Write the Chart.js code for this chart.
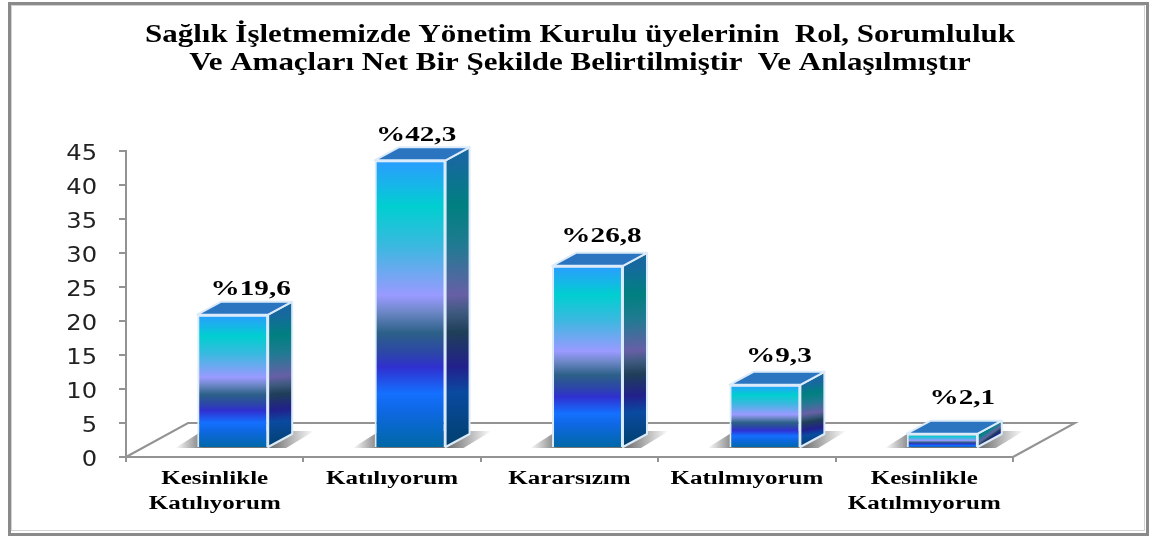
<!DOCTYPE html>
<html><head><meta charset="utf-8">
<style>html,body{margin:0;padding:0;background:#fff}canvas{display:block}#w{width:1159px;height:536px;position:relative}</style>
<script src="https://cdn.jsdelivr.net/npm/chart.js@4"></script>
</head><body><div id="w"><canvas id="c" width="1159" height="536"></canvas></div>
<script>
const titleLines = ["Sağlık İşletmemizde Yönetim Kurulu üyelerinin  Rol, Sorumluluk", "Ve Amaçları Net Bir Şekilde Belirtilmiştir  Ve Anlaşılmıştır"];
const categories = [["Kesinlikle","Katılıyorum"],["Katılıyorum"],["Kararsızım"],["Katılmıyorum"],["Kesinlikle","Katılmıyorum"]];
const values = [19.6,42.3,26.8,9.3,2.1];
const valueLabels = ["%19,6","%42,3","%26,8","%9,3","%2,1"];

const LABEL_NUDGE=[[18,-25],[6,-25],[14,-29],[14,-28],[20,-35]];
const FRONT=[[0,'#2b9cff'],[.08,'#18b4ea'],[.16,'#00cfd0'],[.3,'#3cb8e0'],[.47,'#9a9aff'],[.53,'#6a86c4'],[.6,'#2c6088'],[.67,'#2c46a8'],[.72,'#3030d0'],[.81,'#1470ff'],[.87,'#0e68e4'],[1,'#0068a4']];
const SIDE=[[0,'#17689f'],[.16,'#008080'],[.3,'#217a92'],[.47,'#675fa6'],[.53,'#3f5a80'],[.6,'#1f3f58'],[.72,'#22208c'],[.81,'#0a4aa0'],[1,'#00406c']];
const DEPTH={x:24,y:-13}, SHIFT={x:18,y:-9}, FLOOR={x:62,y:-34};
const EDGE='#dcebfa', AXIS='#939393';
const SIZE={title:26,cat:18,val:20,tick:21};
const STRETCH={26:[1.19,0],18:[1.39,0],20:[1.46,0],21:[1.15,4]};
function grad(ctx,x0,y0,x1,y1,stops){const g=ctx.createLinearGradient(x0,y0,x1,y1);stops.forEach(s=>g.addColorStop(s[0],s[1]));return g;}

const canvas=document.getElementById('c');
const rawCtx=canvas.getContext('2d');
const rawFill=rawCtx.fillText.bind(rawCtx);
rawCtx.fillText=function(t,x,y){
  const m=/(\d+)px/.exec(rawCtx.font), s=m&&STRETCH[m[1]];
  if(!s) return rawFill(t,x,y);
  rawCtx.save();rawCtx.translate(x,y+s[1]);rawCtx.scale(s[0],1);rawFill(t,0,0);rawCtx.restore();
};

const scene={id:'scene',
 afterLayout(ch){if(ch.titleBlock){ch.titleBlock.left=0;ch.titleBlock.right=1160;}},
 beforeDraw(ch){const c=ch.ctx;c.save();c.strokeStyle='#d2d2d2';c.lineWidth=1;c.strokeRect(11.5,5.5,1133,525);c.strokeStyle='#8a8a8a';c.lineWidth=3;c.strokeRect(9.5,3.5,1138,531);c.restore();},
 beforeDatasetsDraw(ch){
  const c=ch.ctx,a=ch.chartArea;c.save();c.strokeStyle=AXIS;c.lineWidth=2;c.beginPath();
  c.moveTo(a.left,a.bottom);c.lineTo(a.left+FLOOR.x,a.bottom+FLOOR.y);c.lineTo(a.right+FLOOR.x,a.bottom+FLOOR.y);c.lineTo(a.right,a.bottom);c.stroke();
  ch.getDatasetMeta(0).data.forEach(b=>{
   const l=b.x-b.width/2+SHIFT.x,r=b.x+b.width/2+SHIFT.x,y=b.base+SHIFT.y+1;
   const g=grad(c,l-22,0,r+46,0,[[0,'rgba(110,110,110,0)'],[.2,'rgba(110,110,110,.95)'],[.7,'rgba(110,110,110,.95)'],[1,'rgba(110,110,110,0)']]);
   c.fillStyle=g;c.beginPath();c.moveTo(l-22,y);c.lineTo(l+5,y-17);c.lineTo(r+46,y-17);c.lineTo(r+18,y);c.closePath();c.fill();
  });
  c.restore();
 },
 beforeDatasetDraw(ch){ch.ctx.save();ch.ctx.translate(SHIFT.x,SHIFT.y);
   const c=ch.ctx;
   ch.getDatasetMeta(0).data.forEach(b=>{
    const l=b.x-b.width/2,r=b.x+b.width/2,t=b.y,bt=b.base;
    c.save();c.strokeStyle=EDGE;c.lineWidth=2;c.lineJoin='round';
    c.fillStyle=grad(c,r,t,r+DEPTH.x*.4,bt,SIDE);
    c.beginPath();c.moveTo(r,t);c.lineTo(r+DEPTH.x,t+DEPTH.y);c.lineTo(r+DEPTH.x,bt+DEPTH.y);c.lineTo(r,bt);c.closePath();c.fill();c.stroke();
    c.fillStyle='#2a74c0';
    c.beginPath();c.moveTo(l,t);c.lineTo(l+DEPTH.x,t+DEPTH.y);c.lineTo(r+DEPTH.x,t+DEPTH.y);c.lineTo(r,t);c.closePath();c.fill();c.stroke();
    c.restore();
   });
 },
 afterDatasetDraw(ch){ch.ctx.restore();},
 afterDatasetsDraw(ch){
  const c=ch.ctx;c.save();c.fillStyle='#000';c.font='bold '+SIZE.val+'px "Liberation Serif"';c.textAlign='center';c.textBaseline='middle';
  ch.getDatasetMeta(0).data.forEach((b,i)=>c.fillText(valueLabels[i],b.x+SHIFT.x+LABEL_NUDGE[i][0],b.y+SHIFT.y+LABEL_NUDGE[i][1]));
  c.restore();
 }
};

new Chart(canvas,{
 type:'bar',
 data:{labels:categories,datasets:[{data:values,barPercentage:.4,categoryPercentage:1,
  backgroundColor(ctx){const ch=ctx.chart;if(!ch.chartArea)return '#1470ff';const y=ch.scales.y;return grad(ch.ctx,0,y.getPixelForValue(ctx.raw),0,y.getPixelForValue(0),FRONT);},
  borderColor:EDGE,borderWidth:2}]},
 options:{responsive:false,animation:false,devicePixelRatio:1,
  layout:{padding:{left:10,right:146,top:0,bottom:9}},
  plugins:{legend:{display:false},tooltip:{enabled:false},
   title:{display:true,text:titleLines,color:'#000',align:'center',font:{family:'"Liberation Serif"',size:SIZE.title,weight:'bold',lineHeight:1.077},padding:{top:21,bottom:74}}},
  scales:{
   x:{afterFit(s){s.height=70;},grid:{drawOnChartArea:false,color:AXIS,lineWidth:2,tickLength:5},border:{color:AXIS,width:2},
      ticks:{color:'#000',maxRotation:0,autoSkip:false,padding:5,font:{family:'"Liberation Serif"',size:SIZE.cat,weight:'bold',lineHeight:1.38}}},
   y:{min:0,max:45,afterFit(s){s.width=116;},grid:{drawOnChartArea:false,color:AXIS,lineWidth:2,tickLength:7},border:{color:AXIS,width:2},
      ticks:{stepSize:5,color:'#222',padding:22,font:{family:'"DejaVu Sans"',size:SIZE.tick}}}
  }},
 plugins:[scene]
});
</script></body></html>
